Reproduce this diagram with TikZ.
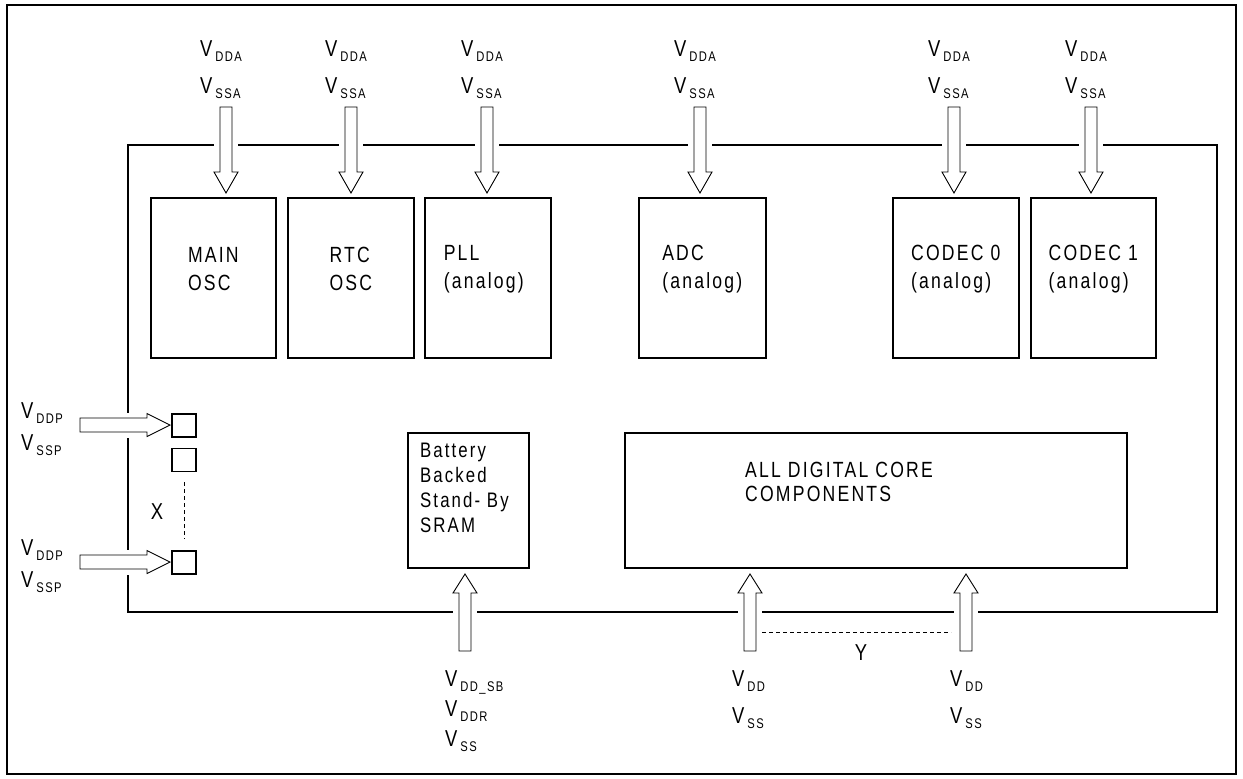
\documentclass[tikz,border=0pt]{standalone}
\usepackage{fontspec}
\setmainfont{Liberation Sans}[FakeStretch=0.8, LetterSpace=10]
\newcommand\VV[1]{V\kern3pt\raisebox{-5pt}{\fontsize{14}{14}\selectfont #1}}
\begin{document}
\begin{tikzpicture}[x=1pt,y=-1pt,
  frame/.style={line width=2pt},
  chip/.style={line width=1.5pt},
  blk/.style={draw, line width=1.6pt, fill=white, inner sep=0pt, anchor=north west},
  pad/.style={draw, line width=1.4pt, minimum width=24pt, minimum height=23pt, inner sep=0pt},
  btxt/.style={align=left, font=\fontsize{22}{28}\selectfont, inner sep=0pt},
  lab/.style={anchor=base west, inner sep=0pt, font=\fontsize{23}{23}\selectfont},
  arr/.style={draw, line width=0.9pt, fill=white},
  gap/.style={fill=white},
  dsh/.style={line width=1pt, dash pattern=on 4pt off 3pt},
  downarr/.pic={\path[arr] (-6,0) -- (-6,65) -- (-12,65) -- (0,86) -- (12,65) -- (6,65) -- (6,0) -- cycle;},
  uparr/.pic={\path[arr] (-6,0) -- (-6,-58) -- (-12,-58) -- (0,-77) -- (12,-58) -- (6,-58) -- (6,0) -- cycle;},
  rightarr/.pic={\path[arr] (0,-7) -- (67,-7) -- (67,-11.5) -- (90,0) -- (67,11.5) -- (67,7) -- (0,7) -- cycle;}
]
\useasboundingbox (0,0) rectangle (1243,779);
\draw[frame] (7,5) rectangle (1236,774);
\draw[chip] (128,145) rectangle (1217,612);

% top blocks
\node[blk, minimum width=125pt, minimum height=160pt] (main) at (150,197) {};
\node[blk, minimum width=126pt, minimum height=160pt] (rtc) at (287,197) {};
\node[blk, minimum width=126pt, minimum height=160pt] (pll) at (424,197) {};
\node[blk, minimum width=127pt, minimum height=160pt] (adc) at (638,197) {};
\node[blk, minimum width=126pt, minimum height=160pt] (cod0) at (892,197) {};
\node[blk, minimum width=125pt, minimum height=160pt] (cod1) at (1030,197) {};
\node[btxt, yshift=9pt] (tmain) at (main) {MAIN\\OSC};
\node[btxt, yshift=9pt] (trtc) at (rtc) {RTC\\OSC};
\node[btxt, yshift=9pt, xshift=-4pt] (tpll) at (pll) {PLL\\(analog)};
\node[btxt, yshift=9pt] (tadc) at (adc) {ADC\\(analog)};
\node[btxt, yshift=9pt] (tcod0) at (cod0) {CODEC 0\\(analog)};
\node[btxt, yshift=9pt] (tcod1) at (cod1) {CODEC 1\\(analog)};

% lower blocks
\node[blk, minimum width=121pt, minimum height=135pt] (sram) at (407,432) {};
\node[btxt, anchor=north west, font=\fontsize{21}{25}\selectfont] (tsram) at (420,443) {Battery\\Backed\\Stand- By\\SRAM};
\node[blk, minimum width=502pt, minimum height=135pt] (core) at (624,432) {};
\node[btxt, anchor=north west, font=\fontsize{22}{24}\selectfont] (tcore) at (745,462) {ALL DIGITAL CORE\\COMPONENTS};

% pads
\node[pad] (p1) at (184,425.5) {};
\node[pad] (p2) at (184,460) {};
\node[pad] (p3) at (184,562.5) {};
\draw[dsh, shorten <=10pt, shorten >=11pt] (p2.south) -- (p3.north);
\node[lab, anchor=center] (xl) at (157,512) {X};

% top arrows
\foreach \n/\cx in {a1/226,a2/351,a3/487,a4/700,a5/954,a6/1091}{
  \coordinate (\n) at (\cx,107);
  \fill[gap] (\cx-12,140) rectangle (\cx+12,150);
  \pic at (\n) {downarr};
  \node[lab] at (\cx-26,56.7) {\VV{DDA}};
  \node[lab] at (\cx-26,93.7) {\VV{SSA}};
}

% bottom arrows
\foreach \n/\cx in {b1/465,b2/750,b3/966}{
  \coordinate (\n) at (\cx,651);
  \fill[gap] (\cx-12,606) rectangle (\cx+12,618);
  \pic at (\n) {uparr};
}
\node[lab] (l1) at (445,686.6) {\VV{DD\_SB}};
\node[lab] (l2) at (445,716.6) {\VV{DDR}};
\node[lab] (l3) at (445,746.6) {\VV{SS}};
\node[lab] (l4) at (732,686.6) {\VV{DD}};
\node[lab] (l5) at (732,723.6) {\VV{SS}};
\node[lab] (l6) at (950,686.6) {\VV{DD}};
\node[lab] (l7) at (950,723.6) {\VV{SS}};
\coordinate (y1) at (762,632);
\coordinate (y2) at (951,632);
\draw[dsh] (y1) -- (y2);
\node[lab, anchor=center] (yl) at (861,653) {Y};

% left arrows
\coordinate (c1) at (80,425);
\coordinate (c2) at (80,562);
\fill[gap] (122,412.5) rectangle (134,437.5);
\fill[gap] (122,549.5) rectangle (134,574.5);
\pic at (c1) {rightarr};
\pic at (c2) {rightarr};
\node[lab] (d1) at (21,418) {\VV{DDP}};
\node[lab] (d2) at (21,450) {\VV{SSP}};
\node[lab] (d3) at (21,555) {\VV{DDP}};
\node[lab] (d4) at (21,587) {\VV{SSP}};
\end{tikzpicture}
\end{document}
